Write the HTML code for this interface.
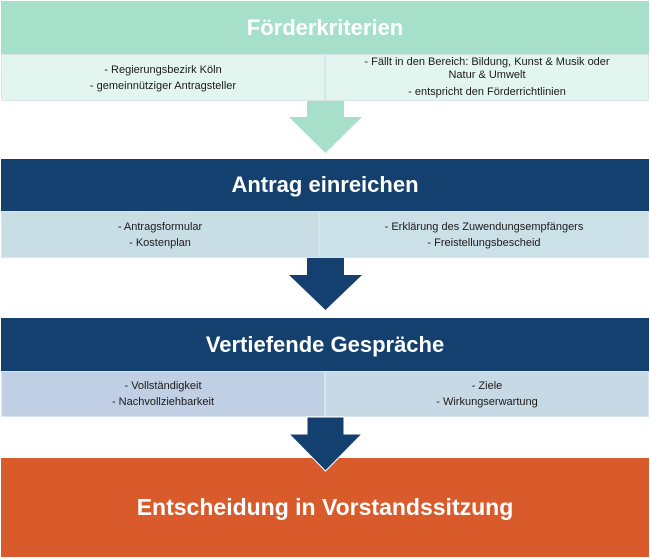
<!DOCTYPE html>
<html><head><meta charset="utf-8"><style>
body{margin:0;width:650px;height:559px;background:#fff;position:relative;overflow:hidden;font-family:"Liberation Sans",sans-serif}
.b{position:absolute;box-sizing:border-box}
.h{display:flex;align-items:center;justify-content:center;color:#fff;font-weight:bold;font-size:22px}
.s{display:flex;flex-direction:column;align-items:center;justify-content:center;font-size:11px;color:#1a1a1a;line-height:16px;text-align:center;border:1px solid #d8e6ea}
</style></head><body>
<div class="b h" style="left:1px;top:1px;width:648px;height:53px;background:#a6e0cb">Förderkriterien</div>
<div class="b s" style="left:1px;top:54px;width:324px;height:47px;background:#e3f5ef">- Regierungsbezirk Köln<br>- gemeinnütziger Antragsteller</div>
<div class="b s" style="left:325px;top:54px;width:324px;height:47px;background:#e3f5ef;line-height:13px"><div>- Fällt in den Bereich: Bildung, Kunst &amp; Musik oder<br>Natur &amp; Umwelt</div><div style="margin-top:4px">- entspricht den Förderrichtlinien</div></div>

<div class="b h" style="left:1px;top:159px;width:648px;height:52px;background:#13406e">Antrag einreichen</div>
<div class="b s" style="left:1px;top:211px;width:318px;height:47px;background:#c9dde5">- Antragsformular<br>- Kostenplan</div>
<div class="b s" style="left:319px;top:211px;width:330px;height:47px;background:#cce0e8">- Erklärung des Zuwendungsempfängers<br>- Freistellungsbescheid</div>

<div class="b h" style="left:1px;top:318px;width:648px;height:53px;background:#13406e">Vertiefende Gespräche</div>
<div class="b s" style="left:1px;top:371px;width:324px;height:46px;background:#c0cfe4">- Vollständigkeit<br>- Nachvollziehbarkeit</div>
<div class="b s" style="left:325px;top:371px;width:324px;height:46px;background:#c8d9e6">- Ziele<br>- Wirkungserwartung</div>

<div class="b h" style="left:1px;top:458px;width:648px;height:99px;background:#d95a2a;font-size:23px">Entscheidung in Vorstandssitzung</div>

<svg class="b" style="left:0;top:0" width="650" height="559">
<polygon points="307,101 344,101 344,117 362,117 325.5,153 289,117 307,117" fill="#a6e0cb"/>
<polygon points="307,258 344,258 344,275 362,275 325.5,310 289,275 307,275" fill="#13406e"/>
<polygon points="307,417 344,417 344,434 362,434 325.5,471 289,434 307,434" fill="#13406e" stroke="#fff" stroke-width="1"/>
</svg>
</body></html>
